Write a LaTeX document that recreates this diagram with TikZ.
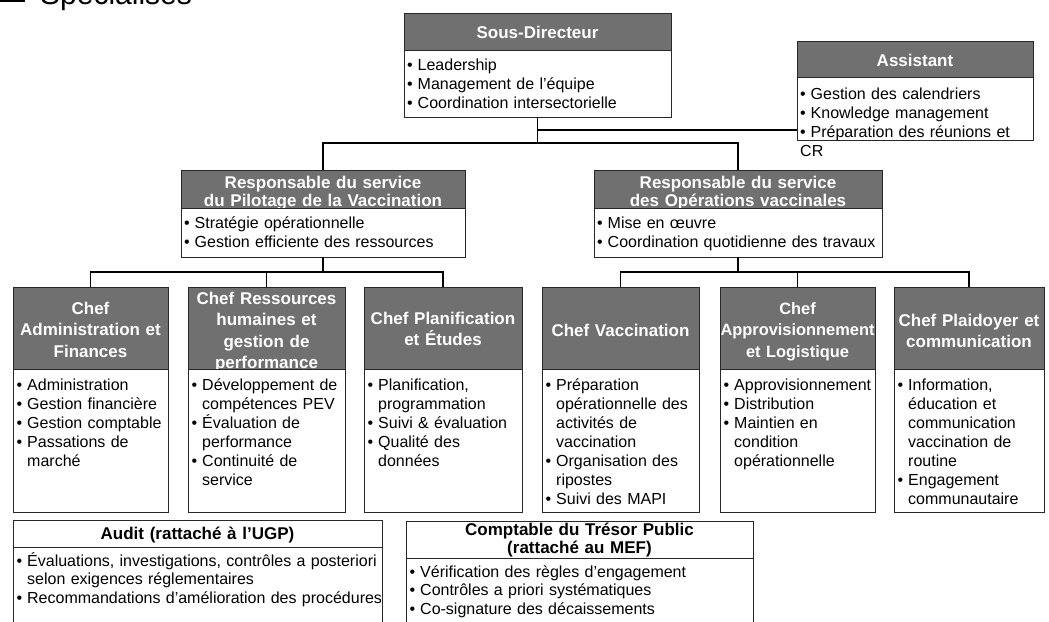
\documentclass[tikz,border=0pt]{standalone}
\usepackage{fontspec}
\setmainfont{Liberation Sans}
\definecolor{hg}{RGB}{112,112,112}
\definecolor{lc}{RGB}{40,40,40}
\newlength\bw \setlength\bw{10.5pt}
\newcommand\itm[1]{\hangindent=\bw\hangafter=1\noindent\makebox[\bw][l]{\textbullet}#1\par}
\newcommand\itmflat[1]{\hangindent=0pt\noindent\makebox[\bw][l]{\textbullet}#1\par}
\newcommand\bfnt{\fontsize{16}{19}\selectfont}
\newcommand\bfntb{\fontsize{16}{18.5}\selectfont}
\newcommand\hfnt{\fontsize{17}{21.5}\bfseries\selectfont}
\newcommand\hfntr{\fontsize{17}{18.3}\bfseries\selectfont}
\begin{document}
\begin{tikzpicture}[x=1pt,y=-1pt,
  hbox/.style={draw=lc, fill=hg, line width=0.9pt, inner sep=0pt, outer sep=0pt, anchor=north west},
  bbox/.style={draw=lc, fill=white, line width=0.9pt, inner sep=0pt, outer sep=0pt, anchor=north west},
  htxt/.style={text=white, font=\hfnt, align=center, inner sep=0pt, anchor=base, text width=200pt},
  btxt/.style={text=black, font=\bfnt, inner sep=0pt, anchor=base west, text width=190pt},
  conn/.style={draw=black, line width=1.3pt}]
\useasboundingbox (0,0) rectangle (1049,621);
\fill[white] (0,0) rectangle (1049,621);
\clip (0,0) rectangle (1049,621);

% title (cut at top)
\fill[black] (0,-30) rectangle (25,2);
\node[anchor=base west, font=\fontsize{30}{30}\selectfont, inner sep=0pt] (ttl) at (40,5) {Spécialisés};

% coordinates of buses
\coordinate (bus1) at (0,143);
\coordinate (abus) at (0,130);
\coordinate (bus2) at (0,272);

% Sous-Directeur
\node[hbox, minimum width=267pt, minimum height=37pt] (sdh) at (404,13) {};
\node[htxt] (sdt) at (537.5,38) {Sous-Directeur};
\node[bbox, minimum width=267pt, minimum height=67pt] (sdb) at (404,50) {};
\node[btxt, text width=270pt] (sdx) at (407,70.5) {\itm{Leadership}\itm{Management de l’équipe}\itm{Coordination intersectorielle}};

% Assistant
\node[hbox, minimum width=236pt, minimum height=36pt] (ash) at (797,41) {};
\node[htxt] (ast) at (915,66) {Assistant};
\node[bbox, minimum width=236pt, minimum height=63pt] (asb) at (797,77) {};
\node[btxt, text width=260pt] (asx) at (800,99) {\itm{Gestion des calendriers}\itm{Knowledge management}\itmflat{Préparation des réunions et\newline CR}};

% Responsables
\node[hbox, minimum width=284pt, minimum height=38pt] (p1h) at (181,170) {};
\node[htxt, font=\hfntr, text width=290pt] (p1t) at (323,188) {Responsable du service\\du Pilotage de la Vaccination};
\node[bbox, minimum width=284pt, minimum height=49pt] (p1b) at (181,208) {};
\node[btxt, text width=290pt] (p1x) at (184,228) {\itm{Stratégie opérationnelle}\itm{Gestion efficiente des ressources}};

\node[hbox, minimum width=288pt, minimum height=38pt] (p2h) at (594,170) {};
\node[htxt, font=\hfntr, text width=290pt] (p2t) at (738,188) {Responsable du service\\des Opérations vaccinales};
\node[bbox, minimum width=288pt, minimum height=49pt] (p2b) at (594,208) {};
\node[btxt, text width=290pt] (p2x) at (597,228) {\itm{Mise en œuvre}\itm{Coordination quotidienne des travaux}};

% Chefs
\node[hbox, minimum width=155pt, minimum height=82pt] (c1h) at (13,287) {};
\node[htxt] (c1t) at (90.5,314) {Chef\\Administration et\\Finances};
\node[bbox, minimum width=155pt, minimum height=143pt] (c1b) at (13,369) {};
\node[btxt] (c1x) at (16.5,390) {\itm{Administration}\itm{Gestion financière}\itm{Gestion comptable}\itm{Passations de\newline marché}};

\node[hbox, minimum width=157pt, minimum height=82pt] (c2h) at (188,287) {};
\node[htxt] (c2t) at (266.5,304) {Chef Ressources\\humaines et\\gestion de\\performance};
\node[bbox, minimum width=157pt, minimum height=143pt] (c2b) at (188,369) {};
\node[btxt] (c2x) at (191.5,390) {\itm{Développement de\newline compétences PEV}\itm{Évaluation de\newline performance}\itm{Continuité de\newline service}};

\node[hbox, minimum width=158pt, minimum height=82pt] (c3h) at (364,287) {};
\node[htxt] (c3t) at (443,324) {Chef Planification\\et Études};
\node[bbox, minimum width=158pt, minimum height=143pt] (c3b) at (364,369) {};
\node[btxt] (c3x) at (367.5,390) {\itm{Planification,\newline programmation}\itm{Suivi \& évaluation}\itm{Qualité des\newline données}};

\node[hbox, minimum width=157pt, minimum height=82pt] (c4h) at (542,287) {};
\node[htxt] (c4t) at (620.5,336) {Chef Vaccination};
\node[bbox, minimum width=157pt, minimum height=143pt] (c4b) at (542,369) {};
\node[btxt] (c4x) at (545.5,390) {\itm{Préparation\newline opérationnelle des\newline activités de\newline vaccination}\itm{Organisation des\newline ripostes}\itm{Suivi des MAPI}};

\node[hbox, minimum width=155pt, minimum height=82pt] (c5h) at (720,287) {};
\node[htxt, font=\fontsize{16.4}{21.5}\bfseries\selectfont] (c5t) at (797.5,314) {Chef\\Approvisionnement\\et Logistique};
\node[bbox, minimum width=155pt, minimum height=143pt] (c5b) at (720,369) {};
\node[btxt] (c5x) at (723.5,390) {\itm{Approvisionnement}\itm{Distribution}\itm{Maintien en\newline condition\newline opérationnelle}};

\node[hbox, minimum width=150pt, minimum height=82pt] (c6h) at (894,287) {};
\node[htxt] (c6t) at (969,326) {Chef Plaidoyer et\\communication};
\node[bbox, minimum width=150pt, minimum height=143pt] (c6b) at (894,369) {};
\node[btxt] (c6x) at (897.5,390) {\itm{Information,\newline éducation et\newline communication\newline vaccination de\newline routine}\itm{Engagement\newline communautaire}};

% Bottom boxes
\node[bbox, minimum width=369pt, minimum height=27pt] (auh) at (13,520) {};
\node[htxt, text=black, text width=369pt] (aut) at (197.5,539) {Audit (rattaché à l’UGP)};
\node[bbox, minimum width=369pt, minimum height=90pt] (aub) at (13,547) {};
\node[btxt, font=\bfntb, text width=400pt] (aux) at (16.5,566) {\itm{Évaluations, investigations, contrôles a posteriori\newline selon exigences réglementaires}\itm{Recommandations d’amélioration des procédures}};

\node[bbox, minimum width=347pt, minimum height=37pt] (cph) at (406,521) {};
\node[htxt, text=black, font=\fontsize{17}{18}\bfseries\selectfont, text width=347pt] (cpt) at (579.5,535) {Comptable du Trésor Public\\(rattaché au MEF)};
\node[bbox, minimum width=347pt, minimum height=80pt] (cpb) at (406,558) {};
\node[btxt, font=\bfntb, text width=360pt] (cpx) at (409.5,577) {\itm{Vérification des règles d’engagement}\itm{Contrôles a priori systématiques}\itm{Co-signature des décaissements}};

% connectors
\draw[conn] (sdb.south) -- (sdb.south |- bus1);
\draw[conn] (sdb.south |- abus) -- (asb.west |- abus);
\draw[conn] (p1h.north) -- (p1h.north |- bus1) -- (p2h.north |- bus1) -- (p2h.north);
\draw[conn] (p1b.south) -- (p1b.south |- bus2);
\draw[conn] (c1h.north) -- (c1h.north |- bus2) -- (c3h.north |- bus2) -- (c3h.north);
\draw[conn] (c2h.north) -- (c2h.north |- bus2);
\draw[conn] (p2b.south) -- (p2b.south |- bus2);
\draw[conn] (c4h.north) -- (c4h.north |- bus2) -- (c6h.north |- bus2) -- (c6h.north);
\draw[conn] (c5h.north) -- (c5h.north |- bus2);
\end{tikzpicture}
\end{document}
